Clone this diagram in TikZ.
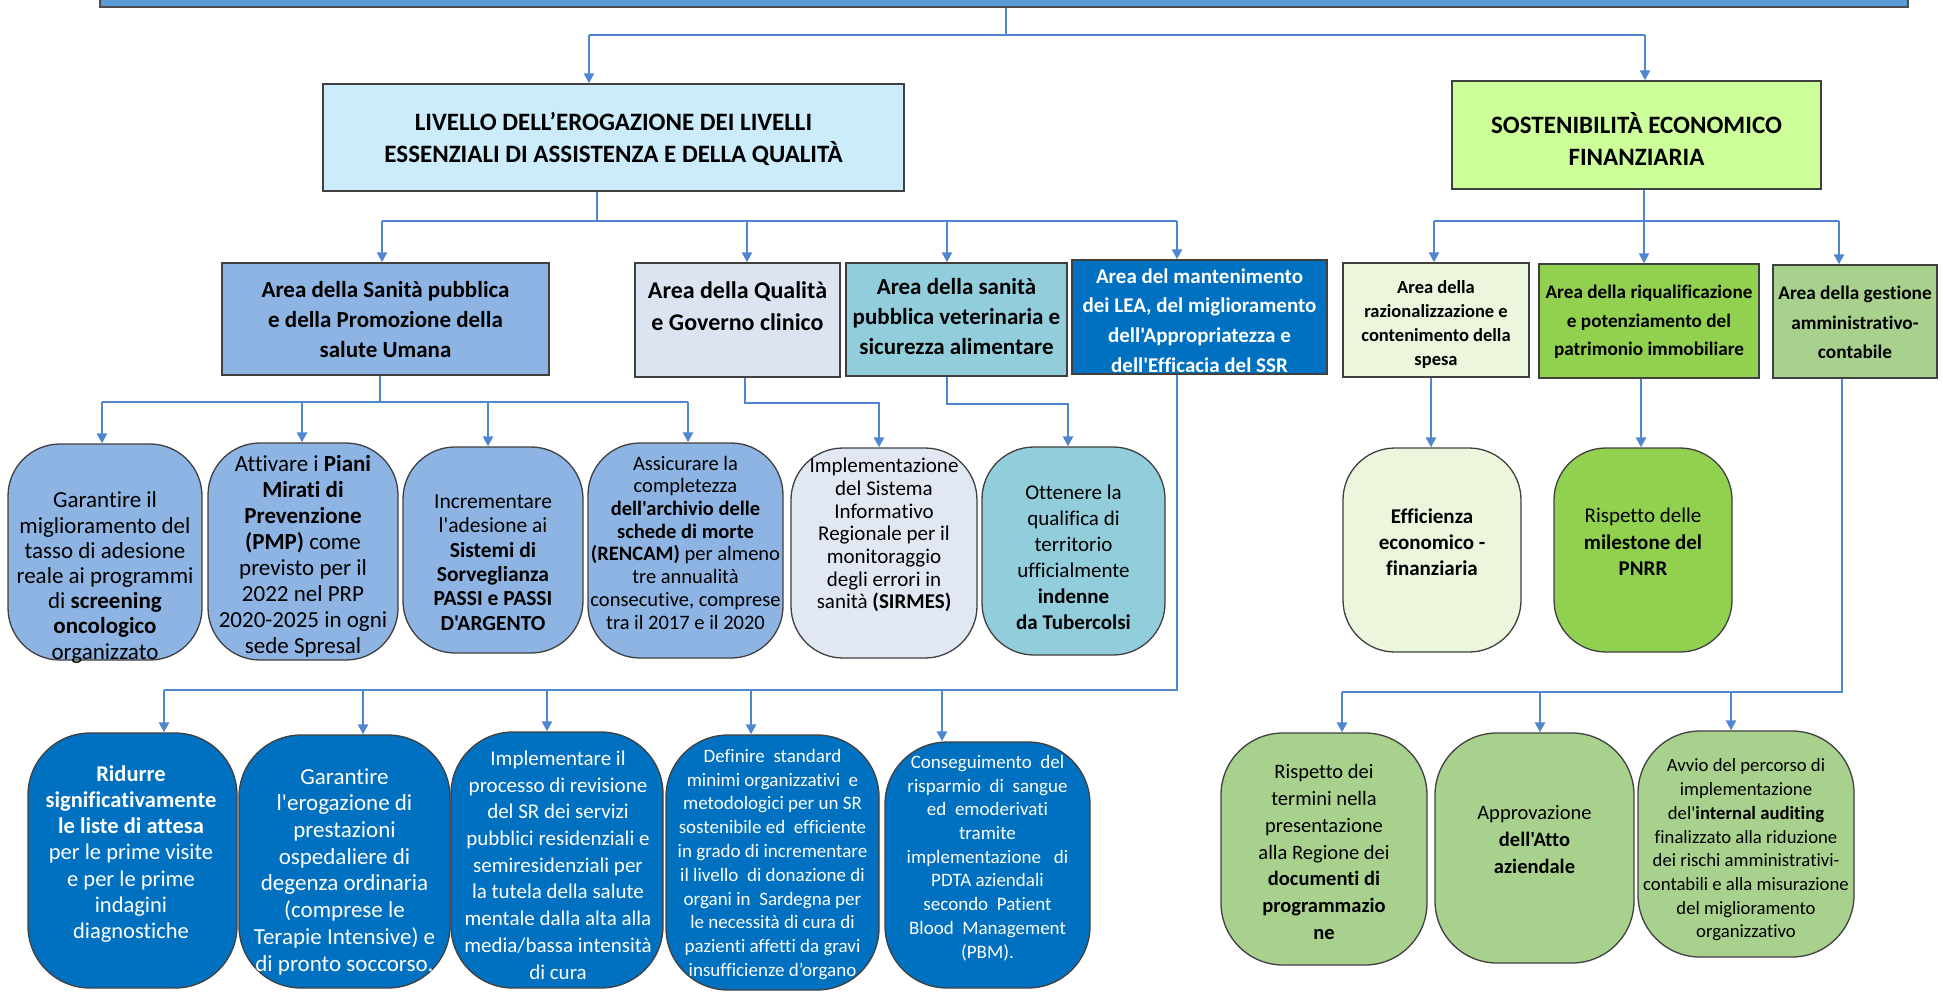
\documentclass[tikz,border=0pt]{standalone}
\usepackage{fontspec}
\defaultfontfeatures[\rmfamily]{}
\setmainfont{Carlito}[RawFeature={-liga;-clig;-calt;-dlig}]
\usetikzlibrary{arrows.meta}
\definecolor{cline}{HTML}{4F86CF}
\definecolor{cborder}{HTML}{404040}
\definecolor{ctop}{HTML}{5B9BD5}
\definecolor{cliv}{HTML}{CCECFB}
\definecolor{csost}{HTML}{CCFF99}
\definecolor{csan}{HTML}{8DB4E2}
\definecolor{cqual}{HTML}{DCE4F2}
\definecolor{cvet}{HTML}{92CDDC}
\definecolor{clea}{HTML}{0070C0}
\definecolor{craz}{HTML}{EBF6DD}
\definecolor{criq}{HTML}{92D050}
\definecolor{cges}{HTML}{A9D18E}
\newcommand{\fsz}[2]{\fontsize{#1pt}{#2pt}\selectfont}
\begin{document}
\begin{tikzpicture}[x=1pt,y=-1pt,
  conn/.style={draw=cline, line width=2.4pt},
  arr/.style={conn, -{Triangle[width=10pt,length=10pt]}},
  abox/.style={draw=cborder, line width=1.4pt, rectangle, inner sep=0pt},
  rbox/.style={draw=cborder, line width=1.3pt, rectangle, rounded corners=52pt, inner sep=0pt},
  bbox/.style={draw=cborder, line width=1.3pt, rectangle, rounded corners=62pt, inner sep=0pt},
  txt/.style={align=center, inner sep=0pt, text=black},
  wtxt/.style={align=center, inner sep=0pt, text=white}]
\useasboundingbox (0,0) rectangle (1943,993);
\fill[white] (0,0) rectangle (1943,993);

% ---------- top bar ----------
\node[abox, fill=ctop, draw=black!70, minimum width=1808pt, minimum height=37pt] (top) at (1004,-11.5) {};

% ---------- level 1 ----------
\node[abox, fill=cliv, minimum width=581pt, minimum height=107pt] (liv) at (613.5,137.5) {};
\node[txt, font=\fsz{25}{32}\bfseries] (livt) at (613.5,139) {LIVELLO DELL’EROGAZIONE DEI LIVELLI\\ESSENZIALI DI ASSISTENZA E DELLA QUALITÀ};
\node[abox, fill=csost, minimum width=369pt, minimum height=108pt] (sost) at (1636.5,135) {};
\node[txt, font=\fsz{25}{32}\bfseries] (sostt) at (1636.5,139) {SOSTENIBILITÀ ECONOMICO\\FINANZIARIA};

% ---------- level 2 ----------
\node[abox, fill=csan, minimum width=327pt, minimum height=112pt] (san) at (385.5,319) {};
\node[txt, font=\fsz{23}{30}\bfseries] (sant) at (385.5,320) {Area della Sanità pubblica\\e della Promozione della\\salute Umana};
\node[abox, fill=cqual, minimum width=205pt, minimum height=114pt] (qual) at (737.5,320) {};
\node[txt, font=\fsz{24}{32}\bfseries] (qualt) at (737.5,306) {Area della Qualità\\e Governo clinico};
\node[abox, fill=cvet, minimum width=221pt, minimum height=113pt] (vet) at (956.5,319.5) {};
\node[txt, font=\fsz{23}{30}\bfseries] (vett) at (956.5,317) {Area della sanità\\pubblica veterinaria e\\sicurezza alimentare};
\node[abox, fill=clea, minimum width=255pt, minimum height=114pt] (lea) at (1199.5,317) {};
\node[wtxt, font=\fsz{21}{29.7}\bfseries] (leat) at (1199.5,320.5) {Area del mantenimento\\dei LEA, del miglioramento\\dell'Appropriatezza e\\dell'Efficacia del SSR};
\node[abox, fill=craz, minimum width=186pt, minimum height=114pt] (raz) at (1436,320) {};
\node[txt, font=\fsz{18.5}{24}\bfseries] (razt) at (1436,324) {Area della\\razionalizzazione e\\contenimento della\\spesa};
\node[abox, fill=criq, minimum width=220pt, minimum height=114pt] (riq) at (1649,321) {};
\node[txt, font=\fsz{19.2}{28.5}\bfseries] (riqt) at (1649,322) {Area della riqualificazione\\e potenziamento del\\patrimonio immobiliare};
\node[abox, fill=cges, minimum width=164pt, minimum height=113pt] (ges) at (1855,321.5) {};
\node[txt, font=\fsz{19.3}{29.5}\bfseries] (gest) at (1855,322.5) {Area della gestione\\amministrativo-\\contabile};

% ---------- level 3 (upper ovals) ----------
\node[rbox, fill=csan, minimum width=194pt, minimum height=216pt] (r1) at (105,552) {};
\node[txt, font=\fsz{23}{25.2}] (r1t) at (105,577.5) {Garantire il\\miglioramento del\\tasso di adesione\\reale ai programmi\\di \textbf{screening}\\\textbf{oncologico}\\organizzato};
\node[rbox, fill=csan, minimum width=190pt, minimum height=217pt] (r2) at (303,551.5) {};
\node[txt, font=\fsz{23}{26}] (r2t) at (303,556) {Attivare i \textbf{Piani}\\\textbf{Mirati di}\\\textbf{Prevenzione}\\\textbf{(PMP)} come\\previsto per il\\2022 nel PRP\\2020-2025 in ogni\\sede Spresal};
\node[rbox, fill=csan, minimum width=180pt, minimum height=206pt] (r3) at (493,550) {};
\node[txt, font=\fsz{21.5}{24.3}] (r3t) at (493,562.5) {Incrementare\\l'adesione ai\\\textbf{Sistemi di}\\\textbf{Sorveglianza}\\\textbf{PASSI e PASSI}\\\textbf{D'ARGENTO}};
\node[rbox, fill=csan, minimum width=195pt, minimum height=215pt] (r4) at (685.5,550.5) {};
\node[txt, font=\fsz{20.5}{22.7}] (r4t) at (685.5,542.5) {Assicurare la\\completezza\\\textbf{dell'archivio delle}\\\textbf{schede di morte}\\\textbf{(RENCAM)} per almeno\\tre annualità\\consecutive, comprese\\tra il 2017 e il 2020};
\node[rbox, fill=cqual!85!white, minimum width=186pt, minimum height=210pt] (r5) at (884,553) {};
\node[txt, font=\fsz{21}{22.7}] (r5t) at (884,535) {Implementazione\\del Sistema\\Informativo\\Regionale per il\\monitoraggio\\degli errori in\\sanità \textbf{(SIRMES)}};
\node[rbox, fill=cvet, minimum width=183pt, minimum height=208pt] (r6) at (1073.5,551) {};
\node[txt, font=\fsz{21}{26}] (r6t) at (1073.5,557) {Ottenere la\\qualifica di\\territorio\\ufficialmente\\\textbf{indenne}\\\textbf{da Tubercolsi}};
\node[rbox, fill=craz, minimum width=178pt, minimum height=204pt] (eff) at (1432,550) {};
\node[txt, font=\fsz{21}{26}\bfseries] (efft) at (1432,542) {Efficienza\\economico -\\finanziaria};
\node[rbox, fill=criq, minimum width=178pt, minimum height=204pt] (mil) at (1643,550) {};
\node[txt, font=\fsz{21}{26.5}] (milt) at (1643,542) {Rispetto delle\\\textbf{milestone del}\\\textbf{PNRR}};

% ---------- level 4 (bottom ovals) ----------
\node[bbox, fill=clea, minimum width=209pt, minimum height=255pt] (b1) at (132.5,860.5) {};
\node[wtxt, font=\fsz{22.5}{26.3}] (b1t) at (131,854) {\textbf{Ridurre}\\\textbf{significativamente}\\\textbf{le liste di attesa}\\per le prime visite\\e per le prime\\indagini\\diagnostiche};
\node[bbox, fill=clea, minimum width=211pt, minimum height=253pt] (b2) at (344.5,861.5) {};
\node[wtxt, font=\fsz{23}{26.7}] (b2t) at (344.5,871.5) {Garantire\\l'erogazione di\\prestazioni\\ospedaliere di\\degenza ordinaria\\(comprese le\\Terapie Intensive) e\\di pronto soccorso.};
\node[bbox, fill=clea, minimum width=212pt, minimum height=256pt] (b3) at (557,860) {};
\node[wtxt, font=\fsz{21}{26.7}] (b3t) at (558,865) {Implementare il\\processo di revisione\\del SR dei servizi\\pubblici residenziali e\\semiresidenziali per\\la tutela della salute\\mentale dalla alta alla\\media/bassa intensità\\di cura};
\node[bbox, fill=clea, minimum width=213pt, minimum height=255pt] (b4) at (772.5,862.5) {};
\node[wtxt, font=\fsz{19}{23.8}] (b4t) at (772.5,864.5) {Definire\ \ standard\\minimi organizzativi\ \ e\\metodologici per un SR\\sostenibile ed\ \ efficiente\\in grado di incrementare\\il livello\ \ di donazione di\\organi in\ \ Sardegna per\\le necessità di cura di\\pazienti affetti da gravi\\insufficienze d’organo};
\node[bbox, fill=clea, minimum width=205pt, minimum height=246pt] (b5) at (987.5,865) {};
\node[wtxt, font=\fsz{19}{23.7}] (b5t) at (987.5,858) {Conseguimento\ \ del\\risparmio\ \ di\ \ sangue\\ed\ \ emoderivati\\tramite\\implementazione\ \ \ di\\PDTA aziendali\\secondo\ \ Patient\\Blood\ \ Management\\(PBM).};
\node[bbox, fill=cges, minimum width=206pt, minimum height=232pt] (g1) at (1324,849) {};
\node[txt, font=\fsz{20.5}{26.7}] (g1t) at (1324,852) {Rispetto dei\\termini nella\\presentazione\\alla Regione dei\\\textbf{documenti di}\\\textbf{programmazio}\\\textbf{ne}};
\node[bbox, fill=cges, minimum width=199pt, minimum height=230pt] (g2) at (1534.5,848) {};
\node[txt, font=\fsz{20.5}{27}] (g2t) at (1534.5,840) {Approvazione\\\textbf{dell'Atto}\\\textbf{aziendale}};
\node[bbox, fill=cges, minimum width=216pt, minimum height=226pt] (g3) at (1746,844) {};
\node[txt, font=\fsz{18.7}{23.7}] (g3t) at (1746,850) {Avvio del percorso di\\implementazione\\del'\textbf{internal auditing}\\finalizzato alla riduzione\\dei rischi amministrativi-\\contabili e alla misurazione\\del miglioramento\\organizzativo};

% ---------- connectors ----------
\coordinate (j0) at (1006,35);
\coordinate (j0l) at (589,35);
\coordinate (j0r) at (1645,35);
\draw[conn] (j0 |- top.south) -- (j0);
\draw[conn] (j0l) -- (j0r);
\draw[arr] (j0l) -- (j0l |- liv.north);
\draw[arr] (j0r) -- (j0r |- sost.north);

\coordinate (j1) at (597,221);
\coordinate (j1a) at (382,221);
\coordinate (j1b) at (747,221);
\coordinate (j1c) at (947,221);
\coordinate (j1d) at (1177,221);
\draw[conn] (j1 |- liv.south) -- (j1);
\draw[conn] (j1a) -- (j1d);
\draw[arr] (j1a) -- (j1a |- san.north);
\draw[arr] (j1b) -- (j1b |- qual.north);
\draw[arr] (j1c) -- (j1c |- vet.north);
\draw[arr] (j1d) -- (j1d |- lea.north);

\coordinate (j2) at (1644,221);
\coordinate (j2a) at (1434,221);
\coordinate (j2c) at (1839,221);
\draw[conn] (j2 |- sost.south) -- (j2);
\draw[conn] (j2a) -- (j2c);
\draw[arr] (j2a) -- (j2a |- raz.north);
\draw[arr] (j2) -- (j2 |- riq.north);
\draw[arr] (j2c) -- (j2c |- ges.north);

\coordinate (j3) at (380,402);
\coordinate (j3a) at (102,402);
\coordinate (j3b) at (302,402);
\coordinate (j3c) at (488,402);
\coordinate (j3d) at (688,402);
\draw[conn] (j3 |- san.south) -- (j3);
\draw[conn] (j3a) -- (j3d);
\draw[arr] (j3a) -- (j3a |- r1.north);
\draw[arr] (j3b) -- (j3b |- r2.north);
\draw[arr] (j3c) -- (j3c |- r3.north);
\draw[arr] (j3d) -- (j3d |- r4.north);

\coordinate (j4a) at (745,403);
\coordinate (j4b) at (879,403);
\draw[arr] (j4a |- qual.south) -- (j4a) -- (j4b) -- (j4b |- r5.north);

\coordinate (j5a) at (947,404);
\coordinate (j5b) at (1068,404);
\draw[arr] (j5a |- vet.south) -- (j5a) -- (j5b) -- (j5b |- r6.north);

\coordinate (j6) at (1177,690);
\coordinate (j6a) at (164,690);
\coordinate (j6b) at (363,690);
\coordinate (j6c) at (547,690);
\coordinate (j6d) at (751,690);
\coordinate (j6e) at (942,690);
\draw[conn] (j6 |- lea.south) -- (j6) -- (j6a);
\draw[arr] (j6a) -- (j6a |- b1.north);
\draw[arr] (j6b) -- (j6b |- b2.north);
\draw[arr] (j6c) -- (j6c |- b3.north);
\draw[arr] (j6d) -- (j6d |- b4.north);
\draw[arr] (j6e) -- (j6e |- b5.north);

\coordinate (j7) at (1431,400);
\draw[arr] (j7 |- raz.south) -- (j7 |- eff.north);
\coordinate (j8) at (1641,400);
\draw[arr] (j8 |- riq.south) -- (j8 |- mil.north);

\coordinate (j9) at (1842,692);
\coordinate (j9a) at (1342,692);
\coordinate (j9b) at (1540,692);
\coordinate (j9c) at (1731,692);
\draw[conn] (j9 |- ges.south) -- (j9) -- (j9a);
\draw[arr] (j9a) -- (j9a |- g1.north);
\draw[arr] (j9b) -- (j9b |- g2.north);
\draw[arr] (j9c) -- (j9c |- g3.north);
\end{tikzpicture}
\end{document}
